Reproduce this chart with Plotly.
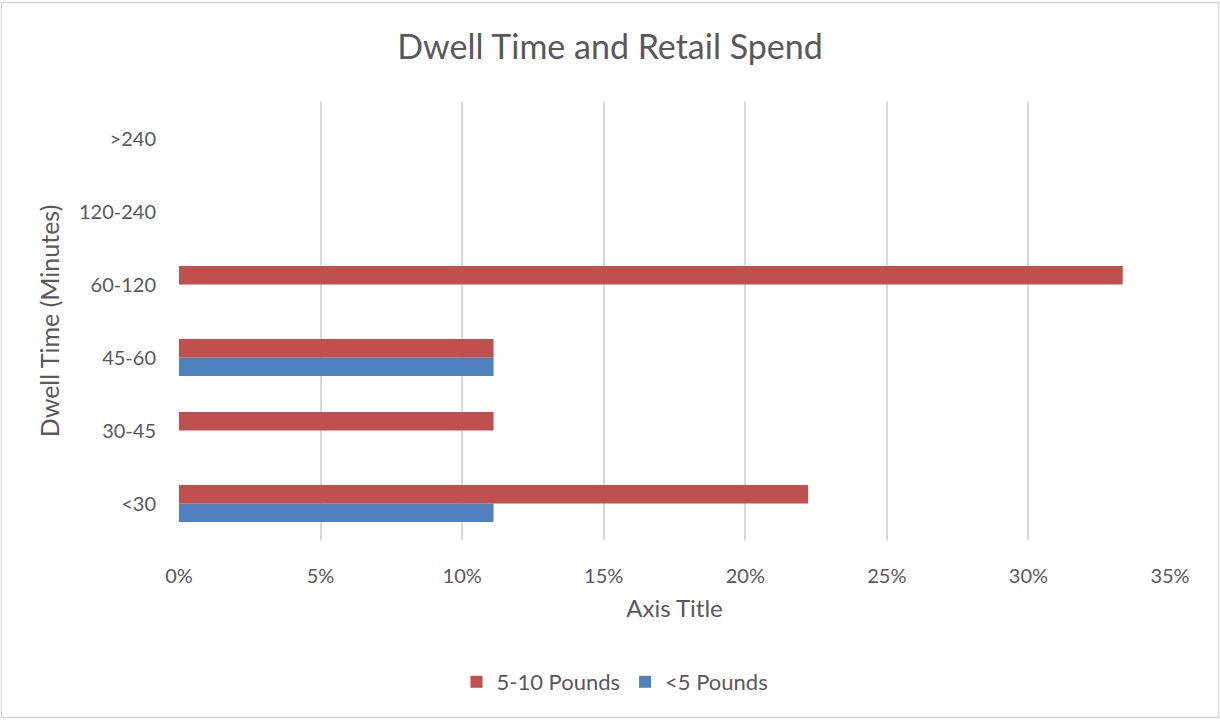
import plotly.graph_objects as go

# Dwell-time bands (bottom to top) and share of respondents per spend band
categories = ["<30", "30-45", "45-60", "60-120", "120-240", ">240"]
under_5_pounds = [0.1111, None, 0.1111, None, None, None]
five_to_ten_pounds = [0.2222, 0.1111, 0.1111, 0.3333, None, None]
x_ticks = [0, 0.05, 0.10, 0.15, 0.20, 0.25, 0.30, 0.35]

W, H = 1220, 720
ML, MR, MT, MB = 179, 50, 102, 180
FONT = "Lato, Calibri, Carlito, sans-serif"
GREY_TEXT = "#595959"
GRID = "#D9D9D9"

fig = go.Figure()
fig.add_trace(go.Bar(
    name="<5 Pounds", y=categories, x=under_5_pounds, orientation="h",
    marker=dict(color="#4F81BD", line=dict(width=0)),
))
fig.add_trace(go.Bar(
    name="5-10 Pounds", y=categories, x=five_to_ten_pounds, orientation="h",
    marker=dict(color="#C0504D", line=dict(width=0)),
))

plot_w = W - ML - MR
plot_h = H - MT - MB


def px_to_paper_x(px):
    return (px - ML) / plot_w


def px_to_paper_y(py):
    return (H - MB - py) / plot_h


# Chart-area border
fig.add_shape(
    type="rect", xref="paper", yref="paper",
    x0=px_to_paper_x(1.5), x1=px_to_paper_x(1218.5),
    y0=px_to_paper_y(717.5), y1=px_to_paper_y(2.5),
    line=dict(color=GRID, width=1.3), fillcolor="rgba(0,0,0,0)", layer="below",
)

fig.update_layout(
    width=W, height=H,
    margin=dict(l=ML, r=MR, t=MT, b=MB),
    paper_bgcolor="white", plot_bgcolor="white",
    barmode="group", bargap=0.49, bargroupgap=0,
    font=dict(family=FONT, color=GREY_TEXT, size=20),
    title=dict(
        text="Dwell Time and Retail Spend",
        x=0.5, xref="container", xanchor="center",
        y=1 - 47 / H, yref="container", yanchor="middle",
        font=dict(family=FONT, size=34, color=GREY_TEXT),
    ),
    xaxis=dict(
        range=[0, 0.35], tickvals=x_ticks, tickformat=".0%",
        showgrid=True, gridcolor=GRID, gridwidth=1.5,
        zeroline=False, showline=False, ticks="",
        ticklabelstandoff=22,
        tickfont=dict(size=20, color=GREY_TEXT),
        title=dict(text="Axis Title", font=dict(size=24, color=GREY_TEXT), standoff=14),
        fixedrange=True,
    ),
    yaxis=dict(
        categoryorder="array", categoryarray=categories,
        showgrid=False, zeroline=False, showline=False, ticks="",
        ticklabelstandoff=22,
        tickfont=dict(size=20, color=GREY_TEXT),
        title=dict(text="Dwell Time (Minutes)", font=dict(size=25, color=GREY_TEXT), standoff=12),
        fixedrange=True,
    ),
    legend=dict(
        orientation="h", traceorder="reversed",
        x=px_to_paper_x(615), xanchor="center",
        y=px_to_paper_y(682), yanchor="middle",
        font=dict(size=22, color=GREY_TEXT),
        itemwidth=30,
    ),
    showlegend=True,
)

fig.write_html("out.html")
